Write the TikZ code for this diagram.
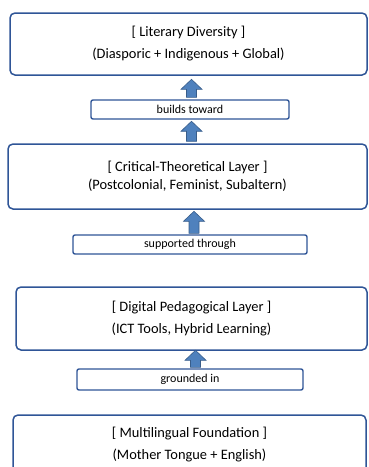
\documentclass[tikz,border=0pt]{standalone}
\usepackage{fontspec}
\setmainfont{Carlito}
\definecolor{boxline}{HTML}{2F5597}
\definecolor{arrfill}{HTML}{4F81BD}
\definecolor{arrline}{HTML}{385D8A}
\tikzset{
  bigbox/.style={draw=boxline, line width=1.5pt, rounded corners=5pt, fill=white, inner sep=0pt,
    align=center, font=\fontsize{14.4}{22}\selectfont},
  smallbox/.style={draw=boxline, line width=1.4pt, rounded corners=2pt, fill=white, inner sep=0pt,
    font=\fontsize{12}{14}\selectfont},
  blockarr/.style={fill=arrfill, draw=arrline, line width=0.6pt, line join=miter}
}
% #1 lower node, #2 xshift, #3 gap below, #4 arrow length
\newcommand\blockup[4]{%
  \draw[blockarr] ([xshift=#2pt, yshift=#3pt]#1.north) ++(-5,0) -- ++(0,-#4+10) -- ++(-5.5,0)
    -- ++(10.5,-10) -- ++(10.5,10) -- ++(-5.5,0) -- ++(0,#4-10) -- cycle;}
\begin{document}
\begin{tikzpicture}[x=1pt,y=-1pt]
\useasboundingbox (0,0) rectangle (368,467);
\clip (0,0) rectangle (368,467);
\node[bigbox, minimum width=357pt, minimum height=62pt] (lit) at (188.5,44)
  {[ Literary Diversity ]\\(Diasporic + Indigenous + Global)};
\node[smallbox, minimum width=198pt, minimum height=19pt] (bt) at (190,109.5) {builds toward};
\node[bigbox, minimum width=359pt, minimum height=65pt, font=\fontsize{14.4}{18}\selectfont] (crit) at (187.5,176.5)
  {[ Critical-Theoretical Layer ]\\(Postcolonial, Feminist, Subaltern)};
\node[smallbox, minimum width=234pt, minimum height=19pt] (st) at (190,244.5) {supported through};
\node[bigbox, minimum width=351pt, minimum height=63pt] (dig) at (191.5,318.5)
  {[ Digital Pedagogical Layer ]\\(ICT Tools, Hybrid Learning)};
\node[smallbox, minimum width=226pt, minimum height=21pt] (gi) at (190,379.5) {grounded in};
\node[bigbox, minimum width=353pt, minimum height=60pt] (mult) at (189.5,445)
  {[ Multilingual Foundation ]\\(Mother Tongue + English)};
\blockup{bt}{1.5}{2}{18}
\blockup{crit}{4}{2}{20}
\blockup{st}{4}{1}{22}
\blockup{gi}{5.5}{1}{17}
\end{tikzpicture}
\end{document}
